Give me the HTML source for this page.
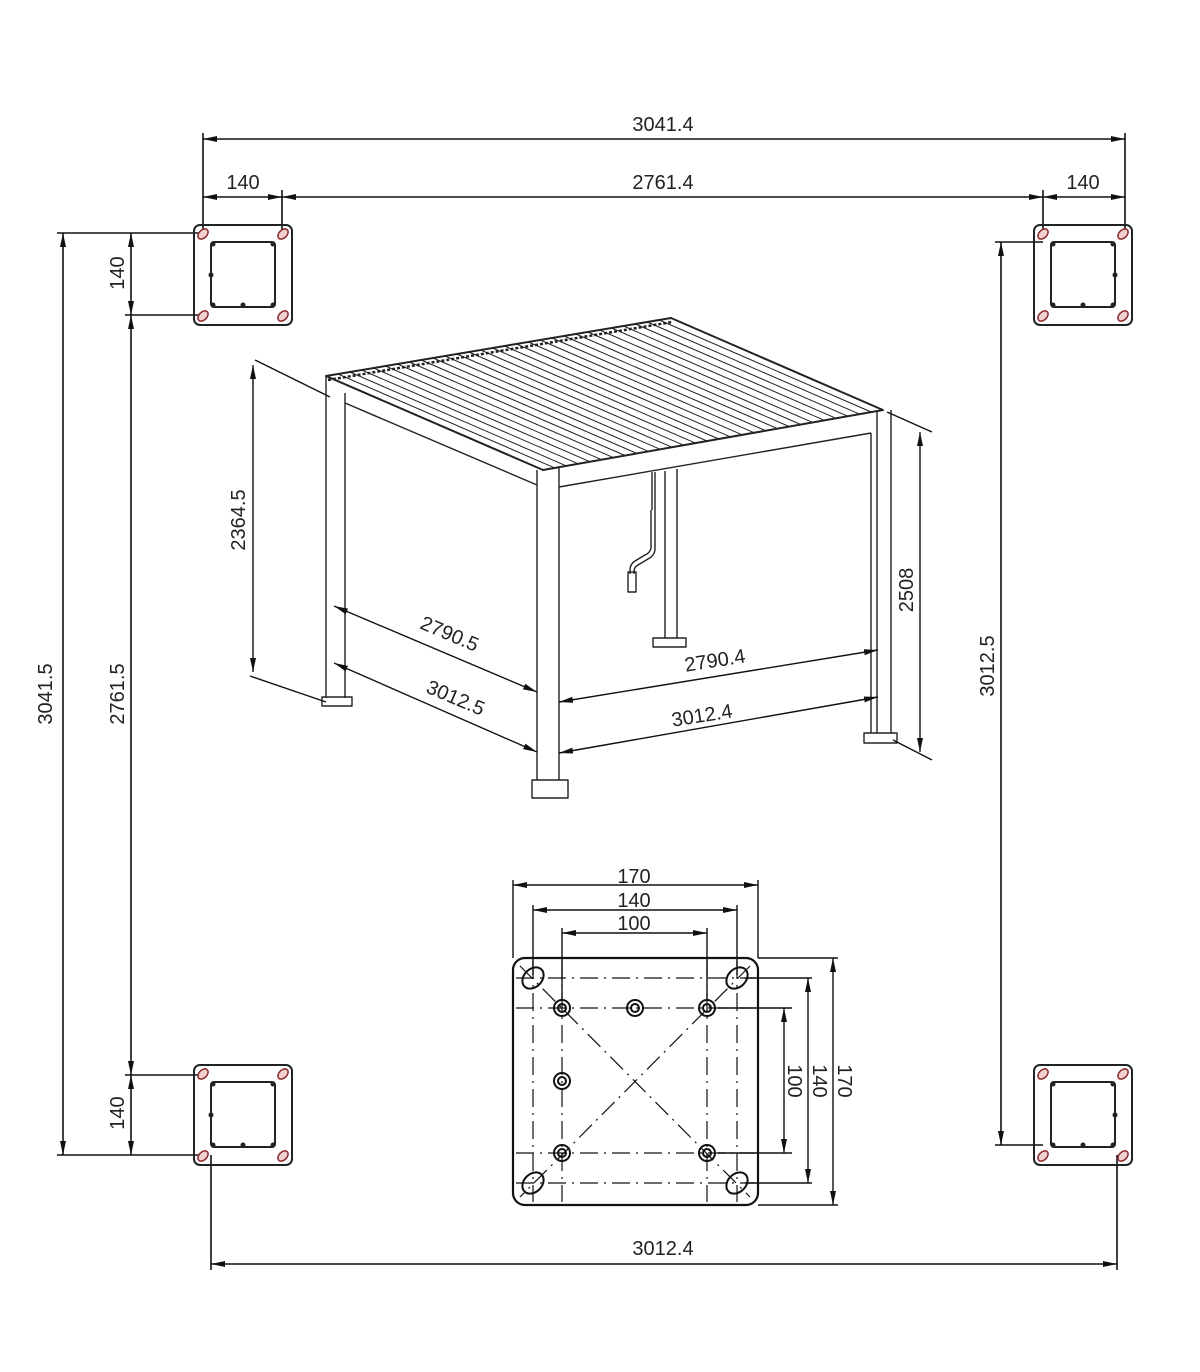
<!DOCTYPE html>
<html><head><meta charset="utf-8"><style>
html,body{margin:0;padding:0;background:#fff}
svg{display:block}
text{font-family:"Liberation Sans Narrow","Liberation Sans",sans-serif;font-size:20px;fill:#222}
</style></head><body>
<svg width="1200" height="1372" viewBox="0 0 1200 1372" xmlns="http://www.w3.org/2000/svg">
<defs>
<marker id="a" viewBox="0 0 14 6" refX="14" refY="3" markerWidth="14" markerHeight="6" orient="auto-start-reverse" markerUnits="userSpaceOnUse"><path d="M0,0 L14,3 L0,6 z" fill="#111"/></marker>
<g id="plate">
<rect x="0" y="0" width="98" height="100" rx="6" fill="none" stroke="#222" stroke-width="2"/>
<rect x="17" y="17" width="64" height="65" rx="3" fill="none" stroke="#222" stroke-width="2"/>
<g fill="#f2d0d0" stroke="#8a2a2a" stroke-width="1.5">
<ellipse cx="9" cy="9" rx="6" ry="4" transform="rotate(-45 9 9)"/>
<ellipse cx="89" cy="9" rx="6" ry="4" transform="rotate(-45 89 9)"/>
<ellipse cx="9" cy="91" rx="6" ry="4" transform="rotate(-45 9 91)"/>
<ellipse cx="89" cy="91" rx="6" ry="4" transform="rotate(-45 89 91)"/>
</g>
<g fill="#222"><circle cx="19" cy="19" r="2.5"/><circle cx="79" cy="19" r="2.5"/><circle cx="19" cy="80" r="2.5"/><circle cx="79" cy="80" r="2.5"/><circle cx="49" cy="80" r="2.5"/></g>
</g>
</defs>

<g stroke="#111" stroke-width="1.6" fill="none">
<line x1="203" y1="133" x2="203" y2="232"/><line x1="1125" y1="133" x2="1125" y2="232"/>
<line x1="282" y1="190" x2="282" y2="232"/><line x1="1043" y1="190" x2="1043" y2="232"/>
<line x1="203" y1="139" x2="1125" y2="139" marker-start="url(#a)" marker-end="url(#a)"/>
<line x1="203" y1="197" x2="282" y2="197" marker-start="url(#a)" marker-end="url(#a)"/>
<line x1="282" y1="197" x2="1043" y2="197" marker-start="url(#a)" marker-end="url(#a)"/>
<line x1="1043" y1="197" x2="1125" y2="197" marker-start="url(#a)" marker-end="url(#a)"/>
<line x1="57" y1="233" x2="203" y2="233"/><line x1="57" y1="1155" x2="203" y2="1155"/>
<line x1="125" y1="315" x2="203" y2="315"/><line x1="125" y1="1075" x2="203" y2="1075"/>
<line x1="63" y1="233" x2="63" y2="1155" marker-start="url(#a)" marker-end="url(#a)"/>
<line x1="131" y1="233" x2="131" y2="315" marker-start="url(#a)" marker-end="url(#a)"/>
<line x1="131" y1="315" x2="131" y2="1075" marker-start="url(#a)" marker-end="url(#a)"/>
<line x1="131" y1="1075" x2="131" y2="1155" marker-start="url(#a)" marker-end="url(#a)"/>
<line x1="995" y1="242" x2="1043" y2="242"/><line x1="995" y1="1145" x2="1043" y2="1145"/>
<line x1="1001" y1="242" x2="1001" y2="1145" marker-start="url(#a)" marker-end="url(#a)"/>
<line x1="211" y1="1155" x2="211" y2="1270"/><line x1="1117" y1="1155" x2="1117" y2="1270"/>
<line x1="211" y1="1264" x2="1117" y2="1264" marker-start="url(#a)" marker-end="url(#a)"/>
</g>

<use href="#plate" x="194" y="225"/><circle cx="211" cy="275" r="2.5" fill="#222"/>
<use href="#plate" x="194" y="1065"/><circle cx="211" cy="1115" r="2.5" fill="#222"/>
<use href="#plate" x="1034" y="225"/><circle cx="1115" cy="275" r="2.5" fill="#222"/>
<use href="#plate" x="1034" y="1065"/><circle cx="1115" cy="1115" r="2.5" fill="#222"/>

<g stroke="#222" stroke-width="1.4" fill="none" stroke-linejoin="round">
<path d="M326,376 L671,318 L883,410 L543,470 Z" stroke-width="2"/>
<path d="M337.9,374L554.7,467.9M349.8,372L566.4,465.9M361.7,370L578.2,463.8M373.6,368L589.9,461.7M385.5,366L601.6,459.7M397.4,364L613.3,457.6M409.3,362L625,455.5M421.2,360L636.8,453.4M433.1,358L648.5,451.4M445,356L660.2,449.3M456.9,354L671.9,447.2M468.8,352L683.6,445.2M480.7,350L695.4,443.1M492.6,348L707.1,441M504.5,346L718.8,439M516.4,344L730.5,436.9M528.3,342L742.2,434.8M540.2,340L754,432.7M552.1,338L765.7,430.7M564,336L777.4,428.6M575.9,334L789.1,426.5M587.8,332L800.8,424.5M599.7,330L812.6,422.4M611.6,328L824.3,420.3M623.5,326L836,418.3M635.4,324L847.7,416.2M647.3,322L859.4,414.1M659.2,320L871.2,412" stroke-width="1"/>
<path d="M328,380 L672,322" stroke-width="2.5" stroke-dasharray="3 2"/>
<path d="M345,403 L537,485"/>
<path d="M559,487 L871,433"/>
<path d="M326,376 L326,698 M345,393 L345,698"/>
<rect x="322" y="697" width="30" height="9"/>
<path d="M537,470 L537,780 M559,468 L559,780"/>
<rect x="532" y="780" width="36" height="18"/>
<path d="M877,412 L877,733 M891,410 L891,733 M871,433 L871,733"/>
<rect x="864" y="733" width="33" height="10"/>
<path d="M665,471 L665,638 M677,469 L677,638"/>
<rect x="653" y="638" width="33" height="9"/>
<path d="M652,472 L652,510 M655,472 L655,510 M651,510 L651,548 Q650,553 645,555 L635,561 Q630,564 630,570 L630,574 M655,510 L655,550 Q654,556 648,559 L638,565 Q634,567 634,572 L634,574"/>
<path d="M628,572 L628,592 L636,592 L636,572 Z"/>
</g>
<g stroke="#111" stroke-width="1.4" fill="none">
<line x1="255" y1="360" x2="330" y2="397"/>
<line x1="250" y1="676" x2="326" y2="702"/>
<line x1="253" y1="365" x2="253" y2="672" marker-start="url(#a)" marker-end="url(#a)"/>
<line x1="887" y1="412" x2="932" y2="432"/><line x1="893" y1="740" x2="932" y2="760"/>
<line x1="920" y1="432" x2="920" y2="752" marker-start="url(#a)" marker-end="url(#a)"/>
<line x1="334" y1="606" x2="537" y2="692" marker-start="url(#a)" marker-end="url(#a)"/>
<line x1="334" y1="663" x2="537" y2="752" marker-start="url(#a)" marker-end="url(#a)"/>
<line x1="559" y1="702" x2="878" y2="650" marker-start="url(#a)" marker-end="url(#a)"/>
<line x1="559" y1="753" x2="878" y2="697" marker-start="url(#a)" marker-end="url(#a)"/>
</g>

<g stroke="#111" stroke-width="1.4" fill="none">
<rect x="513" y="958" width="245" height="247" rx="12" stroke-width="2.2"/>
<line x1="513" y1="880" x2="513" y2="958"/><line x1="758" y1="880" x2="758" y2="958"/>
<line x1="533" y1="905" x2="533" y2="975"/><line x1="737" y1="905" x2="737" y2="975"/>
<line x1="562" y1="928" x2="562" y2="1000"/><line x1="707" y1="928" x2="707" y2="1000"/>
<line x1="513" y1="885" x2="758" y2="885" marker-start="url(#a)" marker-end="url(#a)"/>
<line x1="533" y1="910" x2="737" y2="910" marker-start="url(#a)" marker-end="url(#a)"/>
<line x1="562" y1="933" x2="707" y2="933" marker-start="url(#a)" marker-end="url(#a)"/>
<line x1="758" y1="958" x2="838" y2="958"/><line x1="758" y1="1205" x2="838" y2="1205"/>
<line x1="745" y1="978" x2="812" y2="978"/><line x1="745" y1="1183" x2="812" y2="1183"/>
<line x1="718" y1="1008" x2="792" y2="1008"/><line x1="718" y1="1153" x2="792" y2="1153"/>
<line x1="833" y1="958" x2="833" y2="1205" marker-start="url(#a)" marker-end="url(#a)"/>
<line x1="808" y1="978" x2="808" y2="1183" marker-start="url(#a)" marker-end="url(#a)"/>
<line x1="784" y1="1008" x2="784" y2="1153" marker-start="url(#a)" marker-end="url(#a)"/>
<g stroke-dasharray="18 6 2 6" stroke-width="1.2">
<line x1="516" y1="978" x2="755" y2="978"/><line x1="516" y1="1183" x2="755" y2="1183"/>
<line x1="516" y1="1008" x2="755" y2="1008"/><line x1="516" y1="1153" x2="755" y2="1153"/>
<line x1="533" y1="961" x2="533" y2="1202"/><line x1="737" y1="961" x2="737" y2="1202"/>
<line x1="562" y1="961" x2="562" y2="1202"/><line x1="707" y1="961" x2="707" y2="1202"/>
<line x1="520" y1="966" x2="750" y2="1197"/><line x1="750" y1="966" x2="520" y2="1197"/>
</g>
<g stroke-width="2">
<ellipse cx="533" cy="978" rx="12" ry="9" transform="rotate(-45 533 978)"/>
<ellipse cx="737" cy="978" rx="12" ry="9" transform="rotate(-45 737 978)"/>
<ellipse cx="533" cy="1183" rx="12" ry="9" transform="rotate(-45 533 1183)"/>
<ellipse cx="737" cy="1183" rx="12" ry="9" transform="rotate(-45 737 1183)"/>
<circle cx="562" cy="1008" r="8"/><circle cx="562" cy="1008" r="4"/>
<circle cx="635" cy="1008" r="8"/><circle cx="635" cy="1008" r="4"/>
<circle cx="707" cy="1008" r="8"/><circle cx="707" cy="1008" r="4"/>
<circle cx="562" cy="1081" r="8"/><circle cx="562" cy="1081" r="4"/>
<circle cx="562" cy="1153" r="8"/><circle cx="562" cy="1153" r="4"/>
<circle cx="707" cy="1153" r="8"/><circle cx="707" cy="1153" r="4"/>
</g>
</g>

<g text-anchor="middle">
<text x="663" y="131">3041.4</text>
<text x="243" y="189">140</text>
<text x="663" y="189">2761.4</text>
<text x="1083" y="189">140</text>
<text transform="translate(52,694) rotate(-90)">3041.5</text>
<text transform="translate(124,694) rotate(-90)">2761.5</text>
<text transform="translate(124,273) rotate(-90)">140</text>
<text transform="translate(124,1113) rotate(-90)">140</text>
<text transform="translate(994,666) rotate(-90)">3012.5</text>
<text x="663" y="1255">3012.4</text>
<text transform="translate(245,520) rotate(-90)">2364.5</text>
<text transform="translate(913,590) rotate(-90)">2508</text>
<text transform="translate(447,640) rotate(23)">2790.5</text>
<text transform="translate(453,704) rotate(23)">3012.5</text>
<text transform="translate(716,667) rotate(-9)">2790.4</text>
<text transform="translate(703,722) rotate(-9)">3012.4</text>
<text x="634" y="883">170</text>
<text x="634" y="907">140</text>
<text x="634" y="930">100</text>
<text transform="translate(838,1081) rotate(90)">170</text>
<text transform="translate(813,1081) rotate(90)">140</text>
<text transform="translate(788,1081) rotate(90)">100</text>
</g>
</svg>
</body></html>
